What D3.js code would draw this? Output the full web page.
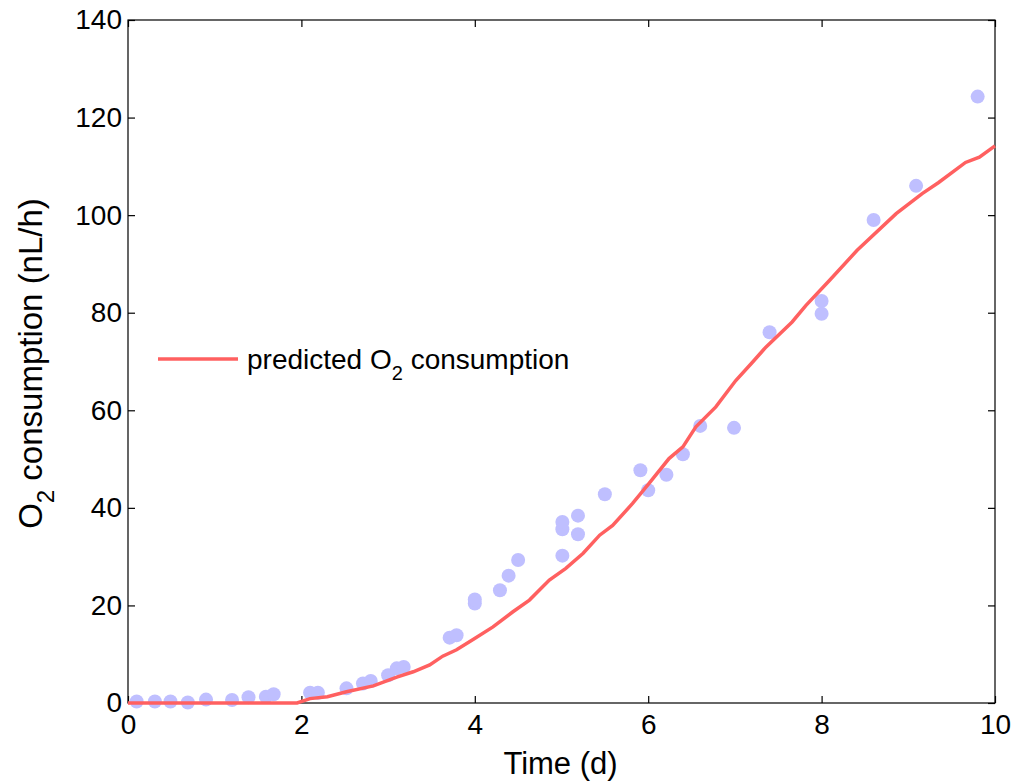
<!DOCTYPE html>
<head>
    <meta charset="utf-8">
    <script src="https://d3js.org/d3.v7.min.js"></script>
    <style>
        body { margin: 0; background: #fff; }
        text { font-family: Arial, "Liberation Sans", sans-serif; fill: #000; }
    </style>
</head>

<body>
    <div id="chart"></div>
</body>

<script>

    // measured O2 consumption (dots)
    const obsTime = [0.1, 0.31, 0.49, 0.69, 0.9, 1.2, 1.39, 1.59, 1.68,
        2.1, 2.19, 2.52, 2.71, 2.8, 3.0, 3.1, 3.18, 3.71, 3.79, 4.0, 4.0,
        4.29, 4.39, 4.5, 5.01, 5.01, 5.01, 5.19, 5.19, 5.5, 5.91, 6.0, 6.21,
        6.4, 6.6, 6.99, 7.4, 8.0, 8.0, 8.6, 9.09, 9.8];
    const obsO2 = [0.3, 0.3, 0.3, 0.1, 0.7, 0.6, 1.2, 1.3, 1.8,
        2.1, 2.1, 3.0, 4.0, 4.5, 5.7, 7.1, 7.4, 13.4, 13.9, 20.4, 21.2,
        23.1, 26.1, 29.3, 30.2, 35.6, 37.1, 34.6, 38.4, 42.8, 47.7, 43.6, 46.8,
        51.0, 56.8, 56.4, 76.0, 79.8, 82.4, 99.0, 106.0, 124.3];

    // predicted curve
    const predTime = [0, 0.5, 1.0, 1.5, 1.95, 2.1, 2.3, 2.52, 2.83, 3.1, 3.29, 3.48,
        3.63, 3.79, 3.98, 4.21, 4.44, 4.63, 4.86, 5.05, 5.25, 5.44, 5.59, 5.82,
        6.01, 6.24, 6.4, 6.55, 6.78, 7.01, 7.2, 7.36, 7.66, 7.82, 8.09, 8.41,
        8.86, 9.16, 9.35, 9.66, 9.82, 10];
    const predO2 = [0, 0, 0, 0, 0, 0.9, 1.3, 2.3, 3.5, 5.3, 6.4, 7.8,
        9.6, 10.9, 13.0, 15.6, 18.7, 21.1, 25.2, 27.6, 30.7, 34.4, 36.4, 40.9,
        45.0, 50.1, 52.5, 56.6, 60.7, 66.1, 69.8, 73.0, 78.1, 81.5, 86.6, 92.8,
        100.3, 104.4, 106.7, 110.8, 111.9, 114.2];

    const xTicks = [0, 2, 4, 6, 8, 10];
    const yTicks = [0, 20, 40, 60, 80, 100, 120, 140];
    const legendLabel = "predicted O";

    const margin = {top: 20, right: 20, bottom: 79, left: 128},
        width = 1015 - margin.left - margin.right,
        height = 782 - margin.top - margin.bottom;

    const svg = d3.select("#chart")
        .append("svg")
            .attr("width", width + margin.left + margin.right)
            .attr("height", height + margin.top + margin.bottom)
        .append("g")
            .attr("transform", `translate(${margin.left},${margin.top})`);

    const x = d3.scaleLinear().domain([0, 10]).range([0, width]);
    const y = d3.scaleLinear().domain([0, 140]).range([height, 0]);

    // frame
    svg.append("rect")
        .attr("width", width).attr("height", height)
        .attr("fill", "none").attr("stroke", "#000").attr("stroke-width", 1.2);

    function styleAxis(g) {
        g.select(".domain").remove();
        g.selectAll("line").attr("stroke", "#000").attr("stroke-width", 1.2);
        g.selectAll("text").style("font-size", "28px").style("font-family", "Arial, 'Liberation Sans', sans-serif");
    }

    // bottom / left with labels, top / right mirrored ticks
    svg.append("g")
        .attr("transform", `translate(0,${height})`)
        .call(d3.axisBottom(x).tickValues(xTicks).tickSize(-7).tickPadding(11))
        .call(styleAxis);
    svg.append("g")
        .call(d3.axisTop(x).tickValues(xTicks).tickSize(-7).tickFormat(""))
        .call(styleAxis);
    svg.append("g")
        .call(d3.axisLeft(y).tickValues(yTicks).tickSize(-7).tickPadding(6))
        .call(styleAxis);
    svg.append("g")
        .attr("transform", `translate(${width},0)`)
        .call(d3.axisRight(y).tickValues(yTicks).tickSize(-7).tickFormat(""))
        .call(styleAxis);

    // dots
    const obs = obsTime.map((t, i) => ({t: t, v: obsO2[i]}));
    svg.selectAll(".dot")
        .data(obs)
        .join("circle")
            .attr("class", "dot")
            .attr("cx", d => x(d.t))
            .attr("cy", d => y(d.v))
            .attr("r", 7)
            .attr("fill", "#bfbfff");

    // predicted line
    const pred = predTime.map((t, i) => ({t: t, v: predO2[i]}));
    svg.append("path")
        .datum(pred)
        .attr("fill", "none")
        .attr("stroke", "#ff6060")
        .attr("stroke-width", 3.5)
        .attr("d", d3.line().x(d => x(d.t)).y(d => y(d.v)));

    // legend
    svg.append("line")
        .attr("x1", 30).attr("x2", 110)
        .attr("y1", y(70.5)).attr("y2", y(70.5))
        .attr("stroke", "#ff6060").attr("stroke-width", 3.5);
    const leg = svg.append("text")
        .attr("x", 119).attr("y", y(70.5) + 10)
        .style("font-size", "28px");
    leg.append("tspan").text(legendLabel);
    leg.append("tspan").attr("dy", 11).style("font-size", "20px").text("2");
    leg.append("tspan").attr("dy", -11).text(" consumption");

    // axis titles
    svg.append("text")
        .attr("x", width / 2 - 1).attr("y", height + 71)
        .attr("text-anchor", "middle")
        .style("font-size", "31px")
        .text("Time (d)");

    const yt = svg.append("text")
        .attr("transform", `translate(-86,${height / 2 + 2}) rotate(-90)`)
        .attr("text-anchor", "middle")
        .style("font-size", "33px");
    yt.append("tspan").text("O");
    yt.append("tspan").attr("dy", 12).style("font-size", "24px").text("2");
    yt.append("tspan").attr("dy", -12).text(" consumption (nL/h)");

</script>
</html>
